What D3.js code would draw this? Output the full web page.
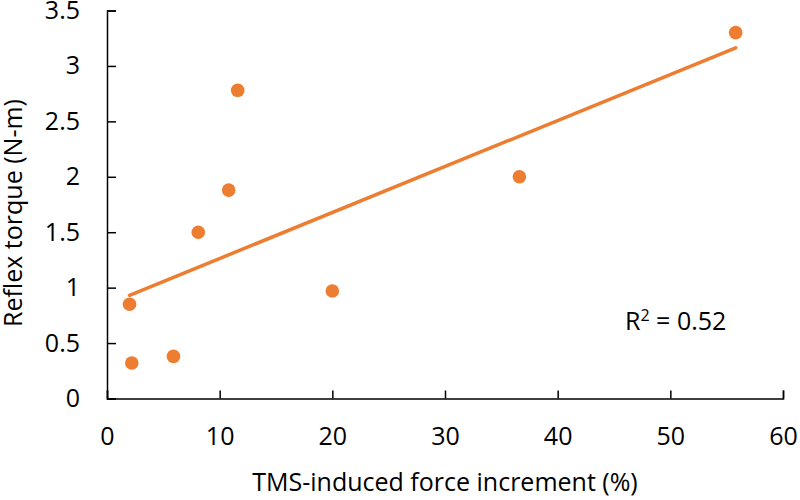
<!DOCTYPE html>
<html>
<head>
    <meta charset="utf-8" />
    <title>Reflex torque vs TMS-induced force increment</title>
    <script src="https://cdn.jsdelivr.net/npm/d3@7"></script>
    <style>
        body { margin: 0; background: #fff; }
        text { font-family: "Open Sans", sans-serif; fill: #000; }
    </style>
</head>
<body>
    <div id="chart"></div>
    <script>
        // values
        var forceIncrement = [2.0, 2.2, 5.9, 8.1, 10.8, 11.6, 20.0, 36.6, 55.8];
        var reflexTorque = [0.85, 0.32, 0.38, 1.50, 1.88, 2.78, 0.97, 2.00, 3.30];
        var xTicks = [0, 10, 20, 30, 40, 50, 60];
        var yTicks = [0, 0.5, 1, 1.5, 2, 2.5, 3, 3.5];
        var xTitle = "TMS-induced force increment (%)";
        var yTitle = "Reflex torque (N-m)";

        var width = 800, height = 500;
        var margin = { top: 10.5, right: 17, bottom: 101.5, left: 107 };
        var orange = "#ED7D31";
        var fontSize = 25;

        var svg = d3.select("#chart").append("svg")
            .attr("width", width)
            .attr("height", height);

        var x = d3.scaleLinear().domain([0, 60]).range([margin.left, width - margin.right]);
        var y = d3.scaleLinear().domain([0, 3.5]).range([height - margin.bottom, margin.top]);

        var points = forceIncrement.map((v, i) => ({ x: v, y: reflexTorque[i] }));

        // least squares trendline, same as the spreadsheet one
        var mx = d3.mean(points, d => d.x), my = d3.mean(points, d => d.y);
        var sxy = d3.sum(points, d => (d.x - mx) * (d.y - my));
        var sxx = d3.sum(points, d => (d.x - mx) * (d.x - mx));
        var syy = d3.sum(points, d => (d.y - my) * (d.y - my));
        var slope = sxy / sxx, intercept = my - slope * mx;
        var r2 = sxy * sxy / (sxx * syy);

        svg.append("g")
            .attr("transform", `translate(0,${y(0)})`)
            .call(d3.axisBottom(x).tickValues(xTicks).tickSize(-8).tickPadding(29))
            .call(g => g.selectAll("path, line").attr("stroke", "#000").attr("stroke-width", 1.5))
            .call(g => g.selectAll("text").attr("font-size", fontSize).attr("font-family", null));

        svg.append("g")
            .attr("transform", `translate(${x(0)},0)`)
            .call(d3.axisLeft(y).tickValues(yTicks).tickFormat(d3.format("")).tickSize(-9).tickPadding(27))
            .call(g => g.selectAll("path, line").attr("stroke", "#000").attr("stroke-width", 1.5))
            .call(g => g.selectAll("text").attr("font-size", fontSize).attr("font-family", null));

        var xExt = d3.extent(points, d => d.x);
        svg.append("line")
            .attr("x1", x(xExt[0])).attr("y1", y(intercept + slope * xExt[0]))
            .attr("x2", x(xExt[1])).attr("y2", y(intercept + slope * xExt[1]))
            .attr("stroke", orange)
            .attr("stroke-width", 3.5)
            .attr("stroke-linecap", "round");

        svg.append("g")
            .selectAll("circle")
            .data(points)
            .join("circle")
            .attr("cx", d => x(d.x))
            .attr("cy", d => y(d.y))
            .attr("r", 6.8)
            .attr("fill", orange);

        var r2Text = svg.append("text")
            .attr("x", 625)
            .attr("y", 330)
            .attr("font-size", fontSize);
        r2Text.append("tspan").text("R");
        r2Text.append("tspan").attr("font-size", 16).attr("dy", -9).text("2");
        r2Text.append("tspan").attr("dy", 9).text(" = " + d3.format(".2f")(r2));

        svg.append("text")
            .attr("x", 445)
            .attr("y", 491)
            .attr("text-anchor", "middle")
            .attr("font-size", fontSize)
            .text(xTitle);

        svg.append("text")
            .attr("transform", "translate(22,213) rotate(-90)")
            .attr("text-anchor", "middle")
            .attr("font-size", fontSize)
            .text(yTitle);
    </script>
</body>
</html>
